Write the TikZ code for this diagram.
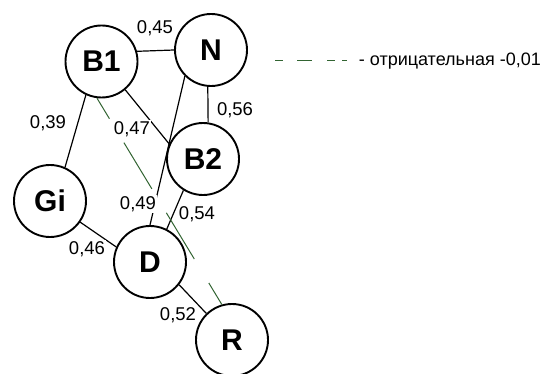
\documentclass[tikz,border=0pt]{standalone}
\usepackage{fontspec}
\setmainfont{Liberation Sans}
\definecolor{dgreen}{RGB}{50,100,50}
\begin{document}
\begin{tikzpicture}[x=1pt,y=-1pt,
  vert/.style={circle,draw,line width=1.9pt,minimum size=72pt,inner sep=0pt,font=\fontsize{30}{30}\selectfont\bfseries},
  edge/.style={line width=1.2pt},
  wlab/.style={fill=white,inner sep=1pt,font=\fontsize{18.5}{19}\selectfont},
  neg/.style={dgreen,line width=1pt}]
\useasboundingbox (0,0) rectangle (543,374);
\node[vert] (B1) at (101.5,61.5) {B1};
\node[vert] (N) at (211,50) {N};
\node[vert] (B2) at (203,159) {B2};
\node[vert] (Gi) at (50,201) {Gi};
\node[vert] (D) at (150,262) {D};
\node[vert] (R) at (232,340) {R};
\draw[edge] (B1.16) -- (N.180);
\draw[edge] (B1.245) -- (Gi.66);
\draw[edge] (B1.-50) -- (B2.156);
\draw[edge] (N.265) -- (B2.82);
\draw[edge] (N.225) -- (D.90);
\draw[edge] (B2.238) -- (D.63);
\draw[edge] (Gi.-35) -- (D.156);
\draw[edge] (D.-38) -- (R.134);
\draw[neg,dash pattern=on 54pt off 28pt,dash phase=30pt] (B1.263) -- (R.106);
\node[wlab] (l45) at (155,28) {0,45};
\node[wlab] (l39) at (48,123) {0,39};
\node[wlab] (l47) at (132,129) {0,47};
\node[wlab] (l56) at (235,110) {0,56};
\node[wlab] (l49) at (138,204) {0,49};
\node[wlab] (l54) at (197,214) {0,54};
\node[wlab] (l46) at (87,249) {0,46};
\node[wlab] (l52) at (178,315) {0,52};
\coordinate (lg1) at (275,61);
\coordinate (lg2) at (347,61);
\draw[neg,dash pattern=on 8pt off 14pt on 15pt off 15pt on 8pt off 7pt] (lg1) -- (lg2);
\node[anchor=east,inner sep=0pt,font=\fontsize{18}{18}\selectfont] (leg) at (541,61) {- отрицательная -0,01};
\end{tikzpicture}
\end{document}
